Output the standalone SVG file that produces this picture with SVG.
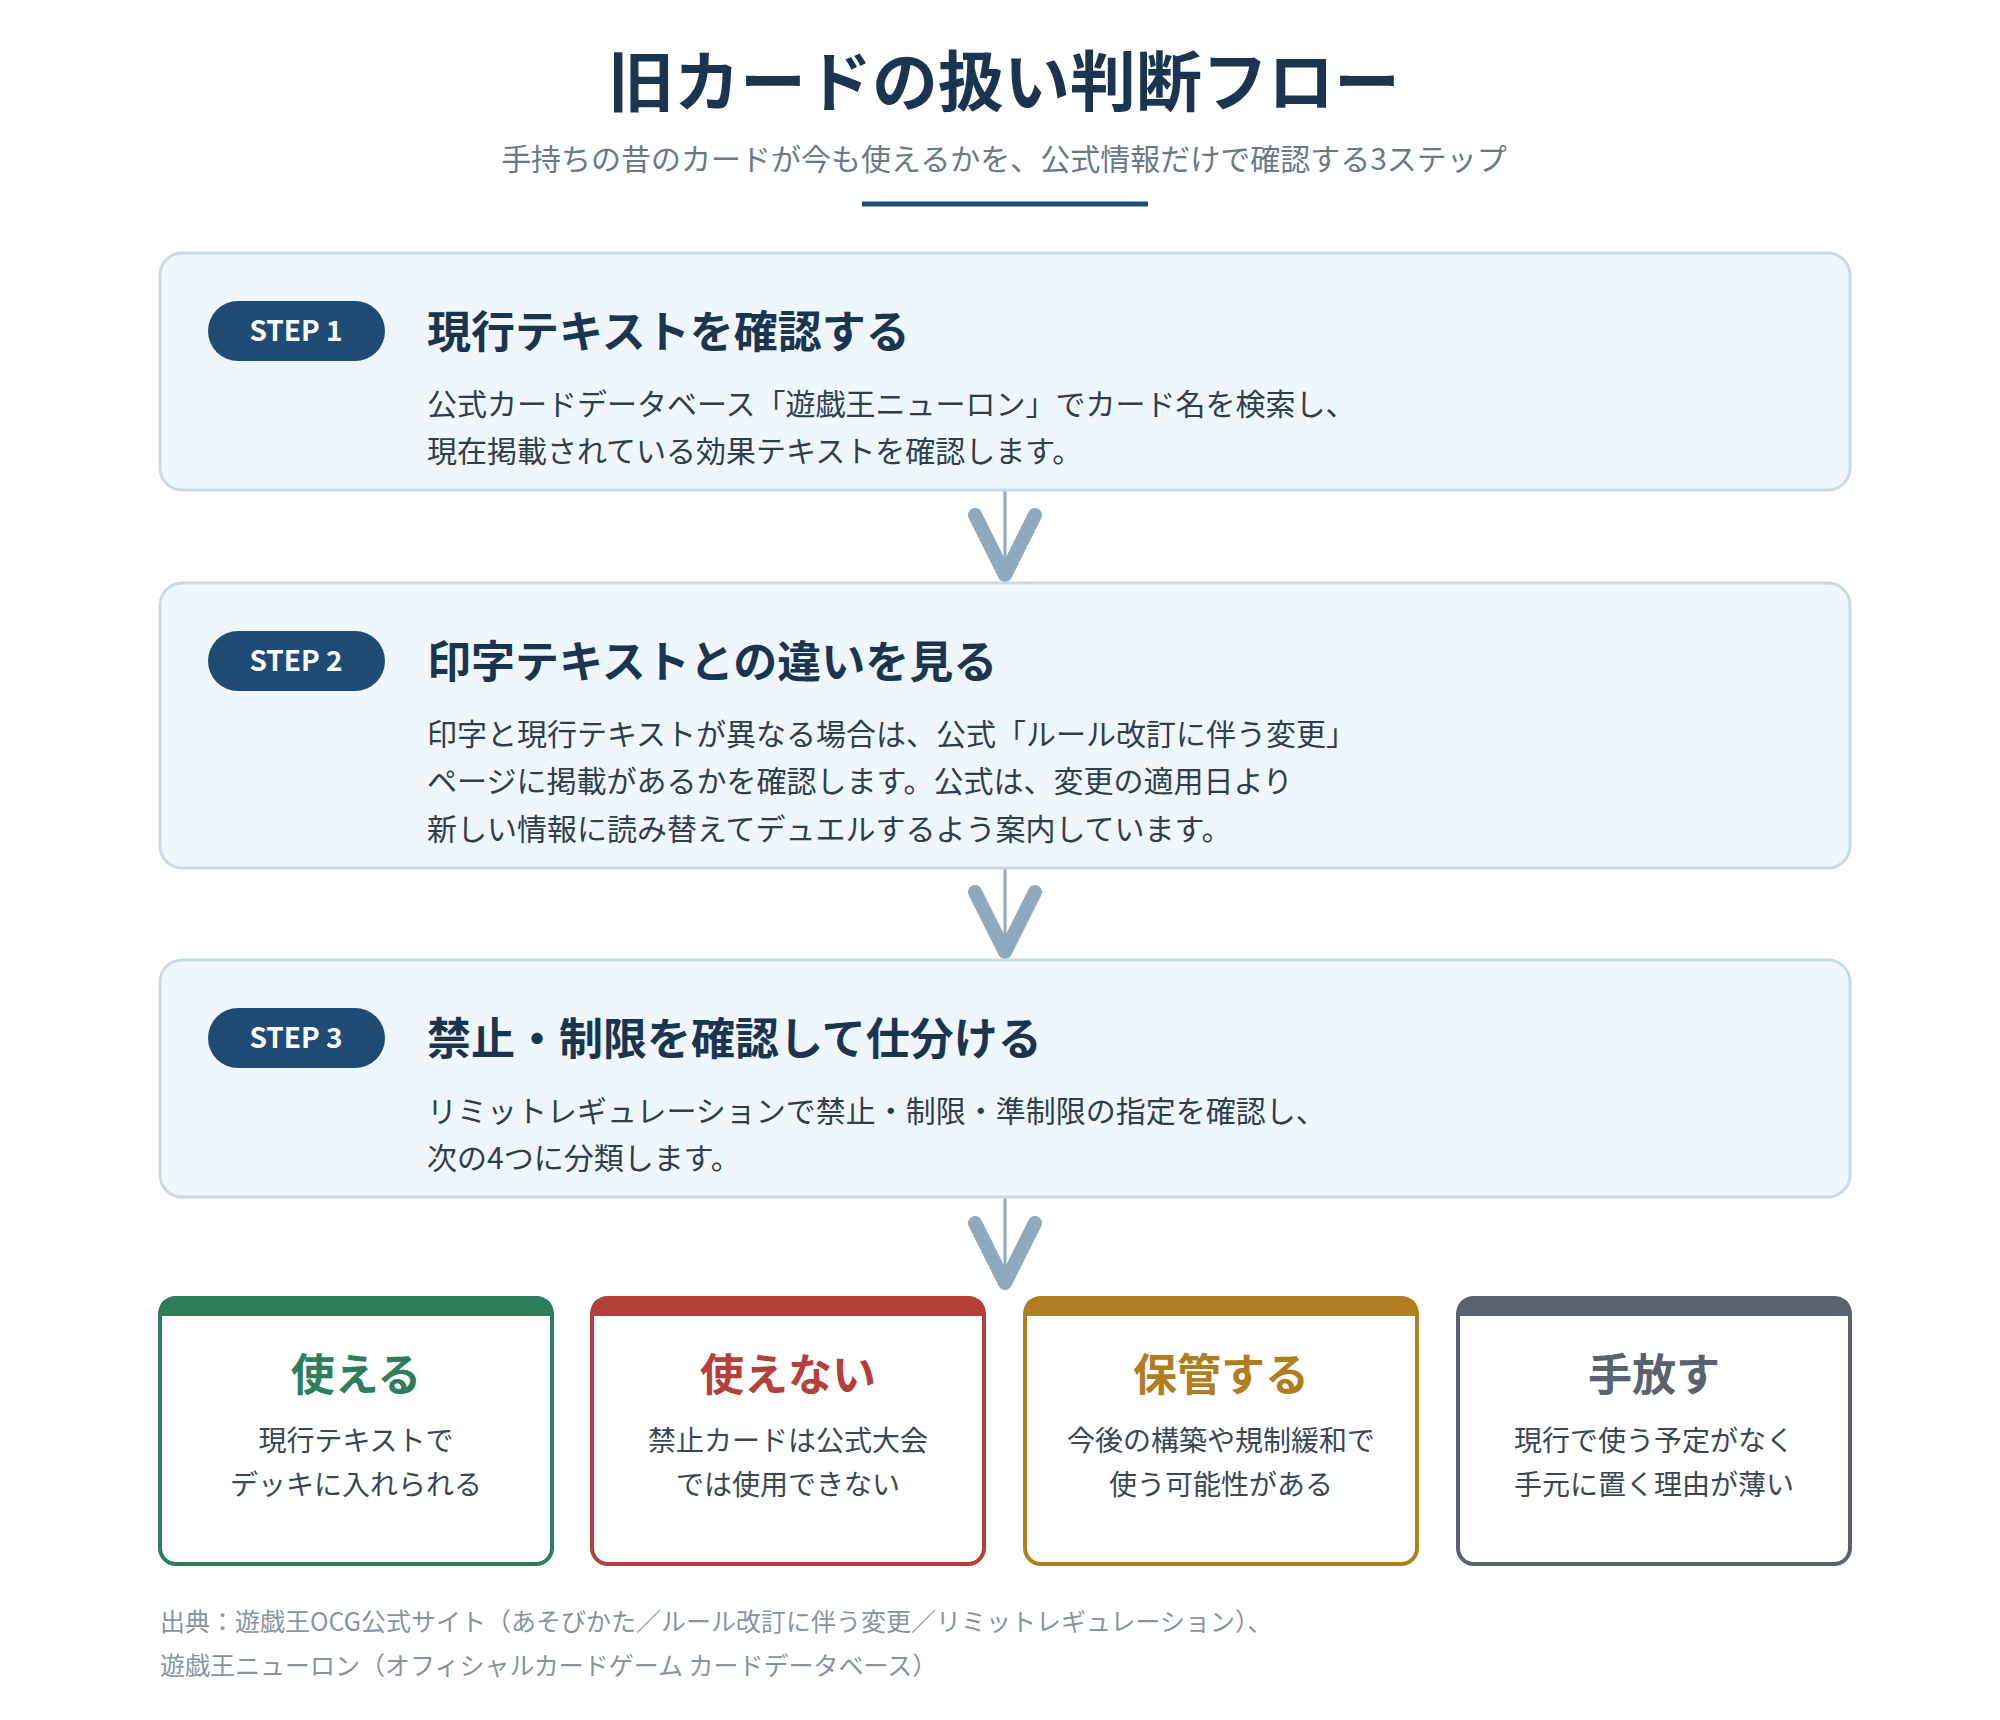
<svg xmlns="http://www.w3.org/2000/svg" width="2000" height="1720" viewBox="0 0 2000 1720">
<style>
text{font-family:"Noto Sans CJK JP","Noto Sans",sans-serif}
.box{fill:#eff6fc;stroke:#c8dae9;stroke-width:3}
.badge{fill:#1f4b75}
.bt{fill:#fff;font-size:28px;font-weight:700;text-anchor:middle}
.st{fill:#1b3550;font-size:44px;font-weight:700}
.body{fill:#2f3e4e;font-size:30px}
.card{fill:#fff;stroke-width:4}
.ct{font-size:44px;font-weight:700;text-anchor:middle}
.cb{fill:#3a4654;font-size:28px;text-anchor:middle}
.foot{fill:#8893a0;font-size:25px}
.conn line{stroke:#8fa9bf;stroke-width:3}
.conn path{fill:none;stroke:#8fa9bf;stroke-width:14;stroke-linecap:round;stroke-linejoin:round}
</style>
<rect width="2000" height="1720" fill="#fff"/>
<g id="header">
<text x="1004" y="106" text-anchor="middle" font-size="66" font-weight="700" fill="#1b3550">旧カードの扱い判断フロー</text>
<text x="1004" y="170" text-anchor="middle" font-size="30" fill="#6b7887">手持ちの昔のカードが今も使えるかを、公式情報だけで確認する3ステップ</text>
<line x1="862" y1="204" x2="1148" y2="204" stroke="#1f4b75" stroke-width="5"/>
</g>
<g id="connectors" class="conn">
<line x1="1005" y1="490" x2="1005" y2="575"/><path d="M975 515 L1005 575 L1035 515"/>
<line x1="1005" y1="868" x2="1005" y2="952"/><path d="M975 892 L1005 952 L1035 892"/>
<line x1="1005" y1="1197" x2="1005" y2="1283"/><path d="M975 1223 L1005 1283 L1035 1223"/>
</g>
<g id="step1">
<rect class="box" x="160" y="253" width="1690" height="237" rx="22"/>
<rect class="badge" x="208" y="301" width="177" height="60" rx="30"/>
<text class="bt" x="296" y="341">STEP 1</text>
<text class="st" x="427" y="348">現行テキストを確認する</text>
<text class="body" x="427" y="415">公式カードデータベース「遊戯王ニューロン」でカード名を検索し、</text>
<text class="body" x="427" y="462">現在掲載されている効果テキストを確認します。</text>
</g>
<g id="step2">
<rect class="box" x="160" y="583" width="1690" height="285" rx="22"/>
<rect class="badge" x="208" y="631" width="177" height="60" rx="30"/>
<text class="bt" x="296" y="671">STEP 2</text>
<text class="st" x="427" y="678">印字テキストとの違いを見る</text>
<text class="body" x="427" y="745">印字と現行テキストが異なる場合は、公式「ルール改訂に伴う変更」</text>
<text class="body" x="427" y="792">ページに掲載があるかを確認します。公式は、変更の適用日より</text>
<text class="body" x="427" y="840">新しい情報に読み替えてデュエルするよう案内しています。</text>
</g>
<g id="step3">
<rect class="box" x="160" y="960" width="1690" height="237" rx="22"/>
<rect class="badge" x="208" y="1008" width="177" height="60" rx="30"/>
<text class="bt" x="296" y="1048">STEP 3</text>
<text class="st" x="427" y="1055">禁止・制限を確認して仕分ける</text>
<text class="body" x="427" y="1122">リミットレギュレーションで禁止・制限・準制限の指定を確認し、</text>
<text class="body" x="427" y="1169">次の4つに分類します。</text>
</g>
<g id="card-use">
<rect class="card" x="160" y="1298" width="392" height="266" rx="16" stroke="#2e7d5b"/>
<path d="M160 1316 V1310 Q160 1298 172 1298 H540 Q552 1298 552 1310 V1316 Z" fill="#2e7d5b"/>
<text class="ct" x="356" y="1391" fill="#2e7d5b">使える</text>
<text class="cb" x="356" y="1451">現行テキストで</text>
<text class="cb" x="356" y="1495">デッキに入れられる</text>
</g>
<g id="card-no">
<rect class="card" x="592" y="1298" width="392" height="266" rx="16" stroke="#b5403a"/>
<path d="M592 1316 V1310 Q592 1298 604 1298 H972 Q984 1298 984 1310 V1316 Z" fill="#b5403a"/>
<text class="ct" x="788" y="1391" fill="#b5403a">使えない</text>
<text class="cb" x="788" y="1451">禁止カードは公式大会</text>
<text class="cb" x="788" y="1495">では使用できない</text>
</g>
<g id="card-keep">
<rect class="card" x="1025" y="1298" width="392" height="266" rx="16" stroke="#b07d1f"/>
<path d="M1025 1316 V1310 Q1025 1298 1037 1298 H1405 Q1417 1298 1417 1310 V1316 Z" fill="#b07d1f"/>
<text class="ct" x="1221" y="1391" fill="#b07d1f">保管する</text>
<text class="cb" x="1221" y="1451">今後の構築や規制緩和で</text>
<text class="cb" x="1221" y="1495">使う可能性がある</text>
</g>
<g id="card-release">
<rect class="card" x="1458" y="1298" width="392" height="266" rx="16" stroke="#5a6270"/>
<path d="M1458 1316 V1310 Q1458 1298 1470 1298 H1838 Q1850 1298 1850 1310 V1316 Z" fill="#5a6270"/>
<text class="ct" x="1654" y="1391" fill="#5a6270">手放す</text>
<text class="cb" x="1654" y="1451">現行で使う予定がなく</text>
<text class="cb" x="1654" y="1495">手元に置く理由が薄い</text>
</g>
<g id="footer">
<text class="foot" x="160" y="1631">出典：遊戯王OCG公式サイト（あそびかた／ルール改訂に伴う変更／リミットレギュレーション）、</text>
<text class="foot" x="160" y="1675">遊戯王ニューロン（オフィシャルカードゲーム カードデータベース）</text>
</g>
</svg>
